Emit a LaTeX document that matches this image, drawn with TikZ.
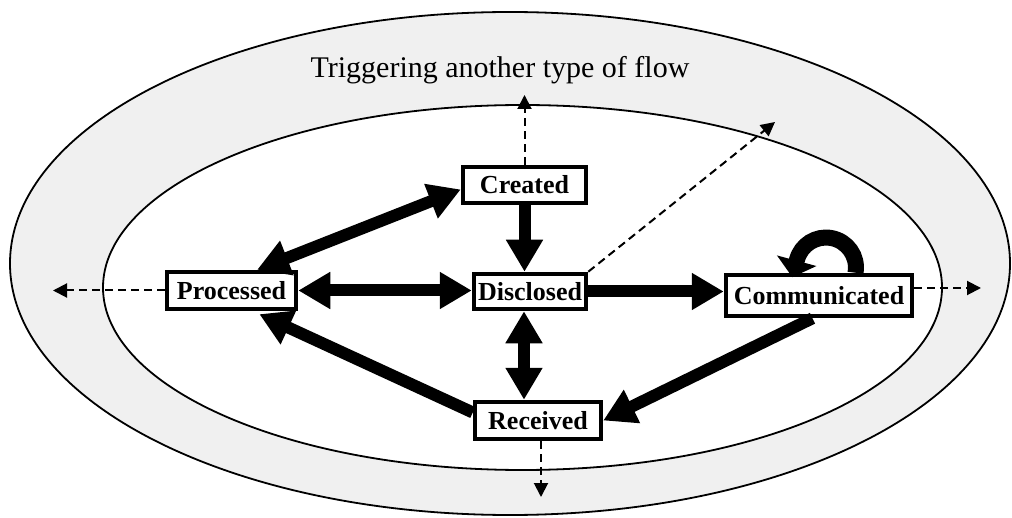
\documentclass[tikz,border=0pt]{standalone}
\usepackage{fontspec}
\setmainfont{Liberation Serif}
\usetikzlibrary{arrows.meta}
\begin{document}
\begin{tikzpicture}[x=0.5pt,y=-0.5pt,
  state/.style={draw, line width=2.25pt, fill=white, inner sep=0pt,
    font=\bfseries\fontsize{13}{15}\selectfont},
  flow/.style={line width=6pt, -{Triangle[length=16pt,width=17.5pt]}},
  bothflow/.style={line width=6pt,
    {Triangle[length=16pt,width=17.5pt]}-{Triangle[length=16pt,width=17.5pt]}},
  selfflow/.style={line width=8pt, -{Triangle[length=8.5pt,width=20pt]}},
  trigger/.style={line width=1pt, dash pattern=on 4pt off 2.5pt,
    -{Triangle[length=7pt,width=7pt]}},
  ring/.style={line width=0.9pt}]
\useasboundingbox (0,0) rectangle (1012,518);
\fill[white] (0,0) rectangle (1012,518);

% outer band and inner region
\draw[ring, fill=gray!12] (510,263.5) ellipse [x radius=250pt, y radius=125.75pt];
\draw[ring, fill=white] (522.5,287.5) ellipse [x radius=209.75pt, y radius=91.25pt];

\node[anchor=base, font=\fontsize{15}{18}\selectfont] (title) at (500,78)
  {Triggering another type of flow};

% states
\node[state, minimum width=61.5pt, minimum height=18pt]   (created)      at (524.5,185)   {Created};
\node[state, minimum width=56pt,   minimum height=17.5pt] (disclosed)    at (530,291.5)   {Disclosed};
\node[state, minimum width=64.5pt, minimum height=18.5pt] (processed)    at (231.5,290.5) {Processed};
\node[state, minimum width=93pt,   minimum height=20.5pt] (communicated) at (819,295.5)   {Communicated};
\node[state, minimum width=63pt,   minimum height=18.5pt] (received)     at (538,420.5)   {Received};

% flows between states
\draw[bothflow] (processed.39) -- (created.184);
\draw[bothflow] (processed.east) -- (processed.east -| disclosed.west);
\draw[flow] (created.south) -- (created.south |- disclosed.north);
\draw[flow] (disclosed.east) -- (disclosed.east -| communicated.west);
\draw[bothflow] ([xshift=-3pt]disclosed.south) -- ([xshift=-3pt]disclosed.south |- received.north);
\draw[flow] (communicated.-106) -- (received.east);
\draw[flow, shorten >=3.5pt] (received.173) -- (processed.-44);
\draw[selfflow] ([xshift=18.25pt]communicated.north)
  arc[start angle=-10, end angle=165, radius=15pt] -- ++(-105:9pt);

% flows leaving towards another type of flow
\coordinate (outN)  at (524.5,95);
\coordinate (outNE) at (775,122);
\coordinate (outW)  at (53,290.5);
\coordinate (outE)  at (981,288);
\coordinate (outS)  at (541,497);
\draw[trigger] (created.north) -- (outN);
\draw[trigger] (disclosed.north east) -- (outNE);
\draw[trigger] (processed.west) -- (outW);
\draw[trigger] (communicated.east |- outE) -- (outE);
\draw[trigger] (received.south -| outS) -- (outS);
\end{tikzpicture}
\end{document}
